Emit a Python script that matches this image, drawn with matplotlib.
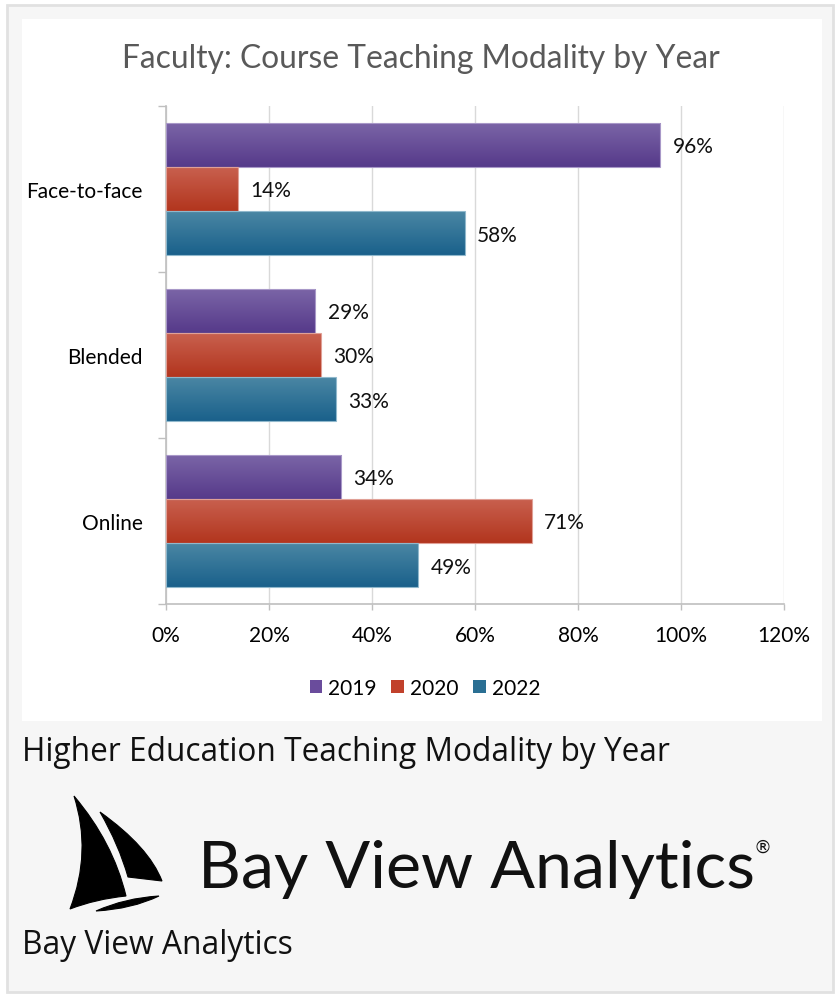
import numpy as np
import matplotlib
matplotlib.use("Agg")
import matplotlib.pyplot as plt
from matplotlib.patches import Rectangle, Patch, PathPatch
from matplotlib.path import Path
from matplotlib.colors import LinearSegmentedColormap
from matplotlib.transforms import Affine2D

# data
categories = ["Online", "Blended", "Face-to-face"]
years = ["2019", "2020", "2022"]
values = {
    "2019": [34, 29, 96],
    "2020": [71, 30, 14],
    "2022": [49, 33, 58],
}
xticks = [0, 20, 40, 60, 80, 100, 120]

# top / bottom gradient colours per year, legend colour
grad_cols = {
    "2019": ("#7b65a7", "#563a8a"),
    "2020": ("#c9614f", "#b2351e"),
    "2022": ("#4b87a4", "#1a618b"),
}
leg_cols = {"2019": "#6a4c9c", "2020": "#c1412b", "2022": "#2a6f93"}
edge_cols = {"2019": "#a898c8", "2020": "#e0a096", "2022": "#90b8cc"}

W, H = 836, 995
fig = plt.figure(figsize=(W / 100, H / 100), dpi=100, facecolor="white")
T = Affine2D().scale(1 / W, -1 / H).translate(0, 1) + fig.transFigure

# page background + chart box
fig.add_artist(Rectangle((7, 6), 826, 987, transform=T, facecolor="#f6f6f6",
                         edgecolor="#e1e1e1", lw=2, zorder=-10))
fig.add_artist(Rectangle((22, 20), 800, 702, transform=T, facecolor="white",
                         edgecolor="none", zorder=-9))

cfont = "Lato"
fs = 15
ax = fig.add_axes([166 / W, 1 - 605 / H, (784 - 166) / W, (605 - 107) / H])
ax.set_facecolor("none")

bh = 0.8 / 3
offsets = {"2019": bh, "2020": 0.0, "2022": -bh}
ypos = np.arange(len(categories))

for yr in years:
    bars = ax.barh(ypos + offsets[yr], values[yr], height=bh, facecolor="none",
                   edgecolor=edge_cols[yr], lw=0.8, zorder=3)
    cmap = LinearSegmentedColormap.from_list("g" + yr, [grad_cols[yr][1], grad_cols[yr][0]])
    grad = np.linspace(0, 1, 64).reshape(-1, 1)
    for p, v in zip(bars.patches, values[yr]):
        im = ax.imshow(grad, extent=[p.get_x(), p.get_x() + p.get_width(),
                                     p.get_y(), p.get_y() + p.get_height()],
                       origin="lower", aspect="auto", cmap=cmap, zorder=2)
        im.set_clip_path(p)
        ax.annotate(f"{v}%", (v, p.get_y() + p.get_height() / 2), xytext=(9, -5.3),
                    textcoords="offset points", va="baseline", ha="left",
                    fontsize=fs, family=cfont, color="#111111")

ax.set_xlim(0, 120)
ax.set_ylim(-0.5, 2.5)
ax.set_xticks(xticks)
ax.set_xticklabels([f"{t}%" for t in xticks], family=cfont, fontsize=fs)
ax.set_yticks(ypos)
ax.set_yticklabels(categories, family=cfont, fontsize=fs)
ax.set_yticks(np.arange(-0.5, 3, 1), minor=True)
ax.tick_params(axis="y", which="major", length=0, pad=17)
ax.tick_params(axis="y", which="minor", length=6, color="#bfbfbf", width=1)
ax.tick_params(axis="x", length=4, color="#bfbfbf", width=1, pad=11)
ax.grid(axis="x", color="#d9d9d9", lw=1, zorder=0)
ax.set_axisbelow(True)
for s in ["top", "right"]:
    ax.spines[s].set_visible(False)
for s in ["left", "bottom"]:
    ax.spines[s].set_color("#bfbfbf")
    ax.spines[s].set_linewidth(1.2)

handles = [Patch(facecolor=leg_cols[y], edgecolor="none", label=y) for y in years]
leg = ax.legend(handles=handles, loc="center", ncol=3, frameon=False,
                bbox_to_anchor=(425 / W, 1 - 689 / H), bbox_transform=fig.transFigure,
                prop={"family": cfont, "size": fs}, handlelength=0.6, handleheight=0.6,
                handletextpad=0.3, columnspacing=0.7)

fig.text(421, 68, "Faculty: Course Teaching Modality by Year", transform=T, ha="center",
         va="baseline", family=cfont, fontsize=22.9, color="#595959")

# captions
fig.text(22, 761, "Higher Education Teaching Modality by Year", transform=T, ha="left",
         va="baseline", family="Open Sans", fontsize=22.8, color="#111111")
fig.text(22, 954, "Bay View Analytics", transform=T, ha="left",
         va="baseline", family="Open Sans", fontsize=22.9, color="#111111")

# logo: sails and hull
M, C3, L, CL = Path.MOVETO, Path.CURVE3, Path.LINETO, Path.CLOSEPOLY
big = Path([(74, 797), (113, 843), (126, 897), (96, 900), (70, 910),
            (92, 853), (74, 797), (74, 797)],
           [M, C3, C3, C3, C3, C3, C3, CL])
small = Path([(100, 813), (149, 848), (162, 882), (128, 878),
              (119, 846), (100, 813), (100, 813)],
             [M, C3, C3, L, C3, C3, CL])
hull = Path([(96, 912), (125, 899), (159, 897), (132, 910), (96, 912), (96, 912)],
            [M, C3, C3, C3, C3, CL])
for pth in [big, small, hull]:
    fig.add_artist(PathPatch(pth, transform=T, facecolor="black", edgecolor="black",
                             lw=0.8, zorder=2))

fig.text(198, 888, "Bay View Analytics", transform=T, ha="left", va="baseline",
         family="Lato", fontsize=47.8, color="#111111")
fig.text(763, 848, "®", transform=T, ha="center", va="center",
         family="DejaVu Sans", fontsize=13, color="#111111")

fig.savefig("out.png", dpi=100, facecolor=fig.get_facecolor())
